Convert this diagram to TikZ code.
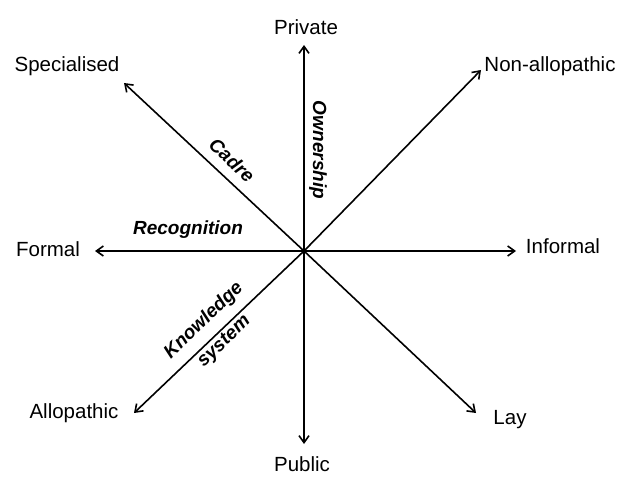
\documentclass[tikz,border=0pt]{standalone}
\usepackage{fontspec}
\setmainfont{Liberation Sans}
\usetikzlibrary{arrows.meta}
\tikzset{
  pole/.style = {font=\fontsize{20.5}{24}\selectfont, inner sep=0pt},
  dim_lbl/.style = {font=\fontsize{19}{29}\selectfont\bfseries\itshape,
    inner sep=0pt, align=center}
}

\begin{document}
\begin{tikzpicture}[x=1pt,y=-1pt,line width=1.6pt,
  >={Straight Barb[length=7pt,width=10pt]}]
\useasboundingbox (0,0) rectangle (620,476);

\coordinate (o) at (304,251);
% arrow tips
\coordinate (t_n) at (304,45);
\coordinate (t_s) at (304,444);
\coordinate (t_w) at (95,251);
\coordinate (t_e) at (516,251);
\coordinate (t_nw) at (124,83);
\coordinate (t_ne) at (481,70);
\coordinate (t_sw) at (134,413);
\coordinate (t_se) at (476,413);

\node[pole] (priv) at (306,27) {Private};
\node[pole] (pub) at (302,464) {Public};
\node[pole] (form) at (48,249) {Formal};
\node[pole] (inf) at (563,246) {Informal};
\node[pole] (spec) at (67,66) {Specialised};
\node[pole] (nonallo) at (550,66) {Non-allopathic};
\node[pole] (allo) at (74,413) {Allopathic};
\node[pole] (lay) at (510,420) {Lay};

\draw[->] (o) -- (t_n);
\draw[->] (o) -- (t_s);
\draw[->] (o) -- (t_w);
\draw[->] (o) -- (t_e);
\draw[->] (o) -- (t_nw);
\draw[->] (o) -- (t_ne);
\draw[->] (o) -- (t_sw);
\draw[->] (o) -- (t_se);

\node[dim_lbl] (recog) at (188,230) {Recognition};
\node[dim_lbl, rotate=-90] (own) at (318,150) {Ownership};
\node[dim_lbl, rotate=-43] (cadre) at (232,160) {Cadre};
\node[dim_lbl, rotate=44] (know) at (214,331) {Knowledge\\system};
\end{tikzpicture}
\end{document}
